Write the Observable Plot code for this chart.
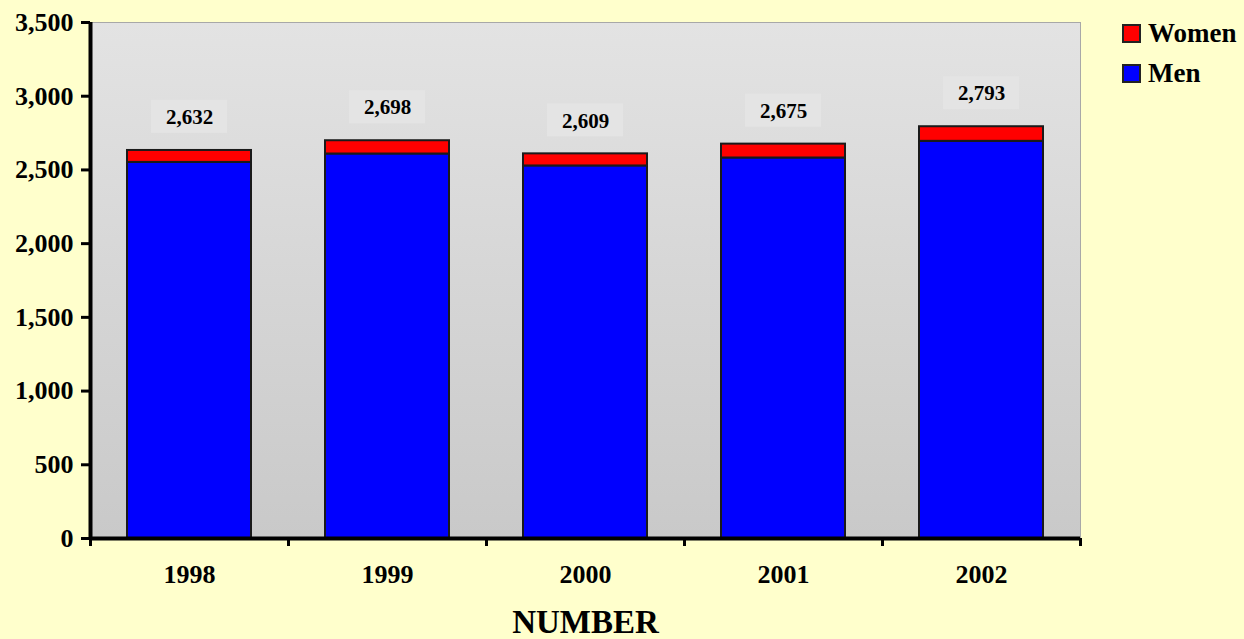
<!DOCTYPE html>
<html>
<head>
<meta charset="utf-8">
<script src="https://cdn.jsdelivr.net/npm/d3@7"></script>
<script src="https://cdn.jsdelivr.net/npm/@observablehq/plot@0.6"></script>
<style>
  html, body { margin: 0; padding: 0; background: #FFFFCC; }
  #wrap { position: relative; width: 1244px; height: 639px; font-family: "Liberation Serif", "Times New Roman", serif; }
  .leg { position: absolute; left: 1122px; display: flex; align-items: center; font-weight: bold; font-size: 27px; color: #000; }
  .sw { width: 15px; height: 15px; border: 2px solid #222; margin-right: 7px; }
</style>
</head>
<body>
<div id="wrap"></div>
<script>
const years = ["1998", "1999", "2000", "2001", "2002"];
const men = [2551, 2608, 2527, 2581, 2694];
const women = [81, 90, 82, 94, 99];
const totals = [2632, 2698, 2609, 2675, 2793];
const yTicks = [0, 500, 1000, 1500, 2000, 2500, 3000, 3500];
const series = ["Men", "Women"];
const seriesColors = ["#0000FF", "#FF0000"];
const xTitle = "NUMBER";

const rows = years.flatMap((y, i) => [
  {year: y, sex: "Men", value: men[i]},
  {year: y, sex: "Women", value: women[i]}
]);
const labels = years.map((y, i) => ({year: y, total: totals[i]}));

const fmt = d3.format(",");

const chart = Plot.plot({
  width: 1244,
  height: 639,
  marginLeft: 90,
  marginRight: 164,
  marginTop: 22,
  marginBottom: 101,
  style: {background: "#FFFFCC", fontFamily: "'Liberation Serif', 'Times New Roman', serif", color: "#000", overflow: "visible"},
  x: {domain: years, paddingInner: 0.374, paddingOuter: 0.187, label: null},
  y: {domain: [0, 3500], label: null},
  color: {domain: series, range: seriesColors},
  marks: [
    Plot.frame({fill: "url(#plotbg)", stroke: "#a8a8a8"}),
    Plot.barY(rows, {x: "year", y: "value", fill: "sex", stroke: "#1a1a1a", strokeWidth: 2}),
    Plot.barY(labels, {x: "year", y1: "total", y2: "total", insetLeft: 24, insetRight: 24, insetTop: -50, insetBottom: 17, fill: "#e4e4e4"}),
    Plot.text(labels, {x: "year", y: "total", text: d => fmt(d.total), dy: -33, fontSize: 21, fontWeight: "bold", fill: "#000"}),
    Plot.axisY({ticks: yTicks, tickFormat: d => fmt(d), tickSize: 9, tickPadding: 8, fontSize: 26, fontWeight: "bold", strokeWidth: 3, label: null}),
    Plot.axisX({tickSize: 0, tickPadding: 26, fontSize: 26, fontWeight: "bold", label: null}),
    Plot.axisX({tickSize: 8, dx: -99, tickFormat: () => "", strokeWidth: 3, label: null}),
    Plot.axisX(["2002"], {tickSize: 8, dx: 99, tickFormat: () => "", strokeWidth: 3, label: null}),
    Plot.ruleY([0], {strokeWidth: 4, stroke: "#000"}),
    Plot.ruleX(["1998"], {dx: -99, strokeWidth: 4, stroke: "#000"}),
    Plot.text([xTitle], {frameAnchor: "bottom", dy: 94, fontSize: 33, fontWeight: "bold", fill: "#000"})
  ]
});

const defs = d3.select(chart).insert("defs", ":first-child");
const g = defs.append("linearGradient").attr("id", "plotbg").attr("x1", 0).attr("y1", 0).attr("x2", 0).attr("y2", 1);
g.append("stop").attr("offset", "0%").attr("stop-color", "#e3e3e3");
g.append("stop").attr("offset", "100%").attr("stop-color", "#c9c9c9");

const wrap = document.getElementById("wrap");
wrap.appendChild(chart);

const legendItems = [
  {name: "Women", color: "#FF0000", top: 18},
  {name: "Men", color: "#0000FF", top: 58}
];
for (const it of legendItems) {
  const d = document.createElement("div");
  d.className = "leg";
  d.style.top = it.top + "px";
  d.innerHTML = `<span class="sw" style="background:${it.color}"></span><span>${it.name}</span>`;
  wrap.appendChild(d);
}
</script>
</body>
</html>
